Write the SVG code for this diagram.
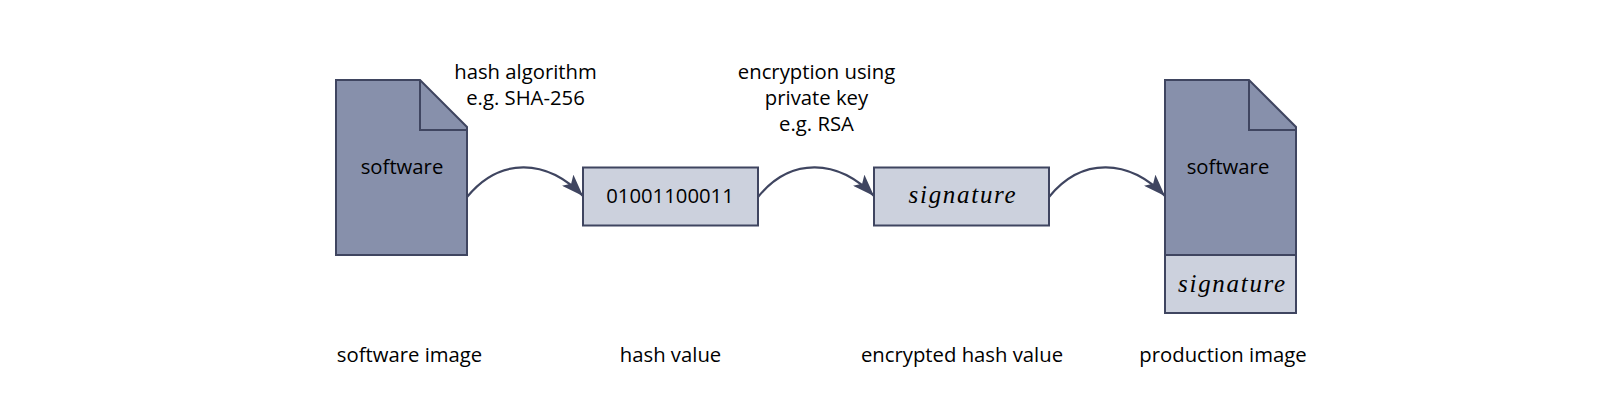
<svg xmlns="http://www.w3.org/2000/svg" width="1602" height="416" viewBox="0 0 1602 416">
<style>
text{font-family:"Open Sans","Noto Sans",sans-serif;font-size:20.3px;fill:#000;text-anchor:middle}
.sig{font-family:"Liberation Serif",serif;font-style:italic;font-size:25px;letter-spacing:1.7px}
.dark{fill:#8790ab;stroke:#3f4560;stroke-width:2}
.light{fill:#ccd1dd;stroke:#3f4560;stroke-width:2}
.fold{fill:none;stroke:#3f4560;stroke-width:2}
.conn{fill:none;stroke:#3f4560;stroke-width:2.2;marker-end:url(#a)}
</style>
<defs><marker id="a" viewBox="0 0 22 16" refX="22" refY="8" markerWidth="22" markerHeight="16" markerUnits="userSpaceOnUse" orient="auto"><path d="M0 0L22 8L0 16L5 8Z" fill="#3f4560"/></marker></defs>
<rect width="1602" height="416" fill="#fff"/>
<g id="connectors">
<path class="conn" d="M467 197C500 156.500 547 159 583 196"/>
<path class="conn" d="M758 197C791 156.500 838 159 874 196"/>
<path class="conn" d="M1049 197C1082 156.500 1129 159 1165 196"/>
</g>
<g id="software-image"><path class="dark" d="M336 80H420L467 127V255H336Z"/><path class="fold" d="M420 80V130H467"/><text x="402" y="174">software</text></g>
<g id="hash-value"><rect class="light" x="583" y="167.500" width="175" height="58"/><text x="670" y="203">01001100011</text></g>
<g id="signature"><rect class="light" x="874" y="167.500" width="175" height="58"/><text class="sig" x="963" y="203">signature</text></g>
<g id="production-image"><path class="dark" d="M1165 80H1249L1296 127V255H1165Z"/><path class="fold" d="M1249 80V130H1296"/><rect class="light" x="1165" y="255" width="131" height="58"/><text x="1228" y="174">software</text><text class="sig" x="1232.500" y="292">signature</text></g>
<g id="labels">
<text x="525.500" y="79">hash algorithm</text><text x="525.500" y="105">e.g. SHA-256</text>
<text x="816.500" y="79">encryption using</text><text x="816.500" y="105">private key</text><text x="816.500" y="131">e.g. RSA</text>
<text x="409.500" y="362">software image</text><text x="670.500" y="362">hash value</text><text x="962" y="362">encrypted hash value</text><text x="1223" y="362">production image</text>
</g>
</svg>
